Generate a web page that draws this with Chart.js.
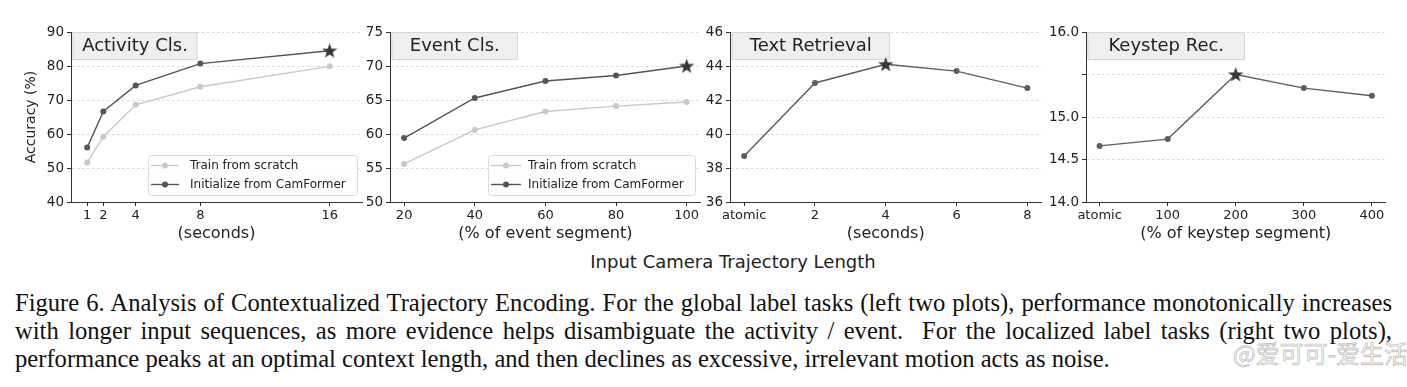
<!DOCTYPE html>
<html><head><meta charset="utf-8">
<script src="https://cdn.jsdelivr.net/npm/chart.js@4/dist/chart.umd.min.js"></script>
<style>
html,body{margin:0;padding:0;background:#fff;}
body{width:1407px;height:387px;overflow:hidden;position:relative;}
canvas.pane{position:absolute;top:0;}
#supx{position:absolute;left:0;width:1466px;text-align:center;top:251px;font-family:'DejaVu Sans',sans-serif;font-size:18px;color:#222;line-height:22px;}
.cap{position:absolute;left:15px;width:1377px;font-family:'Liberation Serif',serif;font-size:24.6px;line-height:28px;color:#111;}
.just{text-align:justify;text-align-last:justify;}
.nowrap{white-space:nowrap;}
#wm{position:absolute;left:1233px;top:338px;font-family:'Noto Sans CJK SC',sans-serif;font-size:24px;line-height:30px;color:rgba(255,255,255,0.55);-webkit-text-stroke:0.8px rgba(140,140,140,0.55);white-space:nowrap;}
</style></head>
<body>
<canvas id="c1" class="pane" width="371" height="250" style="left:1px"></canvas>
<canvas id="c2" class="pane" width="391" height="250" style="left:320px"></canvas>
<canvas id="c3" class="pane" width="392" height="250" style="left:660px"></canvas>
<canvas id="c4" class="pane" width="380" height="250" style="left:1016px"></canvas>
<div id="supx">Input Camera Trajectory Length</div>
<div class="cap just" style="top:289px">Figure 6. Analysis of Contextualized Trajectory Encoding. For the global label tasks (left two plots), performance monotonically increases</div>
<div class="cap just" style="top:317px">with longer input sequences, as more evidence helps disambiguate the activity / event.&nbsp; For the localized label tasks (right two plots),</div>
<div class="cap nowrap" style="top:345px">performance peaks at an optimal context length, and then declines as excessive, irrelevant motion acts as noise.</div>
<div id="wm">@爱可可-爱生活</div>
<script>
// ---- data ----
const activitySeconds = [1, 2, 4, 8, 16];
const activityScratch = [51.6, 59.2, 68.6, 73.9, 79.9];
const activityCamFormer = [56.0, 66.6, 74.3, 80.7, 84.5];
const activityYTicks = [40, 50, 60, 70, 80, 90];

const eventPercent = [20, 40, 60, 80, 100];
const eventScratch = [55.6, 60.6, 63.3, 64.1, 64.7];
const eventCamFormer = [59.4, 65.3, 67.8, 68.6, 70.0];
const eventYTicks = [50, 55, 60, 65, 70, 75];

const textLabels = ['atomic', '2', '4', '6', '8'];
const textRetrieval = [38.7, 43.0, 44.1, 43.7, 42.7];
const textYTicks = [36, 38, 40, 42, 44, 46];

const keystepLabels = ['atomic', '100', '200', '300', '400'];
const keystepRec = [14.66, 14.74, 15.50, 15.34, 15.25];
const keystepYTicks = [14.0, 14.5, 15.0, 15.5, 16.0];
const keystepYLabels = ['14.0', '14.5', '15.0', '', '16.0'];

const seriesNames = ['Train from scratch', 'Initialize from CamFormer'];
const panelTitles = ['Activity Cls.', 'Event Cls.', 'Text Retrieval', 'Keystep Rec.'];
const xTitles = ['(seconds)', '(% of event segment)', '(seconds)', '(% of keystep segment)'];
const yTitle = 'Accuracy (%)';

// keep justified caption lines on a single line
document.querySelectorAll('.cap.just').forEach(el => {
  let fs = parseFloat(getComputedStyle(el).fontSize);
  while (el.getBoundingClientRect().height > 30 && fs > 16) { fs -= 0.2; el.style.fontSize = fs + 'px'; }
});

// ---- styling ----
const FONT = "'DejaVu Sans', sans-serif";
const TXT = '#222';
const AX = '#333';

function makeStar() {
  const c = document.createElement('canvas');
  c.width = 17; c.height = 17;
  const g = c.getContext('2d');
  g.fillStyle = '#363636';
  g.beginPath();
  for (let i = 0; i < 10; i++) {
    const r = i % 2 ? 3.2 : 8.0;
    const a = -Math.PI / 2 + i * Math.PI / 5;
    g.lineTo(8.5 + r * Math.cos(a), 9.0 + r * Math.sin(a));
  }
  g.closePath(); g.fill();
  return c;
}
const STAR = makeStar();

const titleBox = {
  id: 'titleBox',
  beforeDatasetsDraw(chart, args, o) {
    if (!o || !o.text) return;
    const ctx = chart.ctx, a = chart.chartArea;
    const x = a.left + 1.5, y = a.top, w = o.w, h = o.h;
    ctx.save();
    ctx.fillStyle = '#efefef';
    ctx.strokeStyle = '#d6d6d6';
    ctx.lineWidth = 1;
    ctx.fillRect(x, y, w, h);
    ctx.strokeRect(x + 0.5, y + 0.5, w - 1, h - 1);
    ctx.fillStyle = TXT;
    ctx.font = '18px ' + FONT;
    ctx.textAlign = 'center';
    ctx.textBaseline = 'middle';
    ctx.fillText(o.text, x + w / 2, y + h / 2);
    ctx.restore();
  }
};

const innerLegend = {
  id: 'innerLegend',
  afterDatasetsDraw(chart, args, o) {
    if (!o || !o.box) return;
    const ctx = chart.ctx, a = chart.chartArea;
    const [bx, by, bw, bh] = o.box;
    const x = a.left + bx, y = a.top + by;
    ctx.save();
    ctx.beginPath();
    ctx.roundRect(x + 0.5, y + 0.5, bw, bh, 3);
    ctx.fillStyle = 'rgba(255,255,255,0.85)';
    ctx.fill();
    ctx.strokeStyle = '#dcdcdc';
    ctx.lineWidth = 1;
    ctx.stroke();
    chart.data.datasets.forEach((ds, i) => {
      const cy = y + 10.5 + i * 19;
      ctx.strokeStyle = ds.borderColor;
      ctx.lineWidth = ds.borderWidth;
      ctx.beginPath(); ctx.moveTo(x + o.lx0, cy); ctx.lineTo(x + o.lx1, cy); ctx.stroke();
      ctx.fillStyle = ds.pointBackgroundColor;
      ctx.beginPath(); ctx.arc(x + (o.lx0 + o.lx1) / 2, cy, 3, 0, Math.PI * 2); ctx.fill();
      ctx.fillStyle = TXT;
      ctx.font = '12px ' + FONT;
      ctx.textAlign = 'left';
      ctx.textBaseline = 'middle';
      ctx.fillText(ds.label, x + o.tx, cy);
    });
    ctx.restore();
  }
};
Chart.register(titleBox, innerLegend);

function series(label, xs, ys, color, lineW) {
  return {
    label: label,
    data: ys.map((v, i) => ({ x: xs[i], y: v })),
    borderColor: color,
    backgroundColor: color,
    pointBackgroundColor: color,
    pointBorderColor: color,
    borderWidth: lineW,
    pointRadius: 3,
    pointBorderWidth: 0,
    pointStyle: ys.map(v => 'circle'),
    tension: 0,
    fill: false
  };
}
function starPeak(ds, ys) {
  const peak = Math.max(...ys);
  ds.pointStyle = ys.map(v => v === peak ? STAR : 'circle');
  return ds;
}

function panel(id, c) {
  new Chart(document.getElementById(id), {
    type: 'line',
    data: { datasets: c.datasets },
    options: {
      responsive: false, animation: false, events: [],
      layout: { padding: { top: 32, right: c.padRight, bottom: 0, left: 0 } },
      plugins: {
        legend: { display: false }, tooltip: { enabled: false },
        titleBox: { text: c.title, w: c.boxW, h: 28 },
        innerLegend: c.legend || {}
      },
      scales: {
        x: {
          type: 'linear', min: c.xmin, max: c.xmax,
          afterBuildTicks: s => { s.ticks = c.xTicks.map(v => ({ value: v })); },
          afterFit: s => { s.height = 48; },
          ticks: { autoSkip: false, maxRotation: 0, minRotation: 0, padding: 2,
                   font: { family: FONT, size: 13 }, color: TXT,
                   callback: c.xLabel },
          grid: { drawOnChartArea: false, drawTicks: true, tickLength: 4, tickColor: AX, tickWidth: 1, color: AX },
          border: { color: AX, width: 1 },
          title: { display: true, text: c.xTitle, color: TXT, font: { family: FONT, size: 16 }, padding: { top: 0, bottom: 7 } }
        },
        y: {
          type: 'linear', min: c.ymin, max: c.ymax,
          afterBuildTicks: s => { s.ticks = c.yTicks.map(v => ({ value: v })); },
          afterFit: s => { s.width = 70; },
          ticks: { padding: 3, font: { family: FONT, size: 13.5 }, color: TXT, callback: c.yLabel },
          grid: { drawOnChartArea: true, drawTicks: true, tickLength: 4, tickColor: AX, tickWidth: 1,
                  tickBorderDash: [], color: '#cfcfcf', lineWidth: 0.8 },
          border: { color: AX, width: 1, dash: [2.5, 2.5] },
          title: { display: !!c.yTitle, text: c.yTitle || '', color: TXT, font: { family: FONT, size: 14 }, padding: { top: 22, bottom: 0 } }
        }
      }
    }
  });
}

const LIGHT = '#c9c9c9', DARK = '#555555', MID = '#5e5e5e';

panel('c1', {
  title: panelTitles[0], boxW: 125,
  datasets: [
    series(seriesNames[0], activitySeconds, activityScratch, LIGHT, 1.4),
    starPeak(series(seriesNames[1], activitySeconds, activityCamFormer, DARK, 1.4), activityCamFormer)
  ],
  xmin: 0, xmax: 18, xTicks: activitySeconds, xLabel: v => String(v), xTitle: xTitles[0],
  ymin: 40, ymax: 90, yTicks: activityYTicks, yLabel: v => String(v), yTitle: yTitle,
  padRight: 10,
  legend: { box: [77, 123, 209, 40], lx0: 3, lx1: 31, tx: 42 }
});
panel('c2', {
  title: panelTitles[1], boxW: 126.5,
  datasets: [
    series(seriesNames[0], eventPercent, eventScratch, LIGHT, 1.4),
    starPeak(series(seriesNames[1], eventPercent, eventCamFormer, DARK, 1.4), eventCamFormer)
  ],
  xmin: 16, xmax: 104, xTicks: eventPercent, xLabel: v => String(v), xTitle: xTitles[1],
  ymin: 50, ymax: 75, yTicks: eventYTicks, yLabel: v => String(v),
  padRight: 10.2,
  legend: { box: [98, 123, 207, 40], lx0: 3, lx1: 33, tx: 40 }
});
const textIdx = textLabels.map((_, i) => i);
panel('c3', {
  title: panelTitles[2], boxW: 158.5,
  datasets: [ starPeak(series(seriesNames[1], textIdx, textRetrieval, MID, 1.4), textRetrieval) ],
  xmin: -0.2, xmax: 4.2, xTicks: textIdx, xLabel: v => textLabels[v], xTitle: xTitles[2],
  ymin: 36, ymax: 46, yTicks: textYTicks, yLabel: v => String(v),
  padRight: 10.5
});
const keyIdx = keystepLabels.map((_, i) => i);
panel('c4', {
  title: panelTitles[3], boxW: 157.5,
  datasets: [ starPeak(series(seriesNames[1], keyIdx, keystepRec, MID, 1.4), keystepRec) ],
  xmin: -0.2, xmax: 4.2, xTicks: keyIdx, xLabel: v => keystepLabels[v], xTitle: xTitles[3],
  ymin: 14, ymax: 16, yTicks: keystepYTicks, yLabel: (v, i) => keystepYLabels[i],
  padRight: 10.5
});
</script>
</body></html>
